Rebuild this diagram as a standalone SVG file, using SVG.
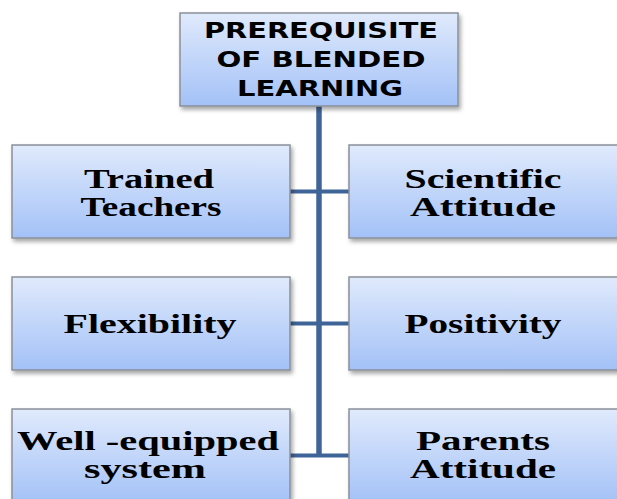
<svg xmlns="http://www.w3.org/2000/svg" width="617" height="499" viewBox="0 0 617 499">
<defs>
<linearGradient id="g" x1="0" y1="0" x2="0" y2="1">
<stop offset="0" stop-color="#e0eafc"/>
<stop offset="1" stop-color="#a3c1f7"/>
</linearGradient>
<filter id="sh" x="-10%" y="-10%" width="125%" height="130%">
<feDropShadow dx="2" dy="3" stdDeviation="2" flood-color="#000" flood-opacity="0.35"/>
</filter>
</defs>
<style>
.box{fill:url(#g);stroke:#8a9099;stroke-width:1.5;filter:url(#sh)}
.t{font-family:"DejaVu Sans","Verdana",sans-serif;font-weight:bold;font-size:22px;fill:#000;text-anchor:middle}
.s{font-family:"Liberation Serif","Times New Roman",serif;font-weight:bold;font-size:27px;fill:#000;text-anchor:middle}
.c{stroke:#3f6497;fill:none}
</style>
<g id="connectors">
<line class="c" x1="319" y1="106" x2="319" y2="457" stroke-width="5.5"/>
<line class="c" x1="290" y1="191.5" x2="349" y2="191.5" stroke-width="4"/>
<line class="c" x1="290" y1="323.5" x2="349" y2="323.5" stroke-width="4"/>
<line class="c" x1="290" y1="455.5" x2="349" y2="455.5" stroke-width="4"/>
</g>
<g id="root">
<rect class="box" x="180" y="13" width="278" height="93"/>
<text class="t" x="321" y="38" textLength="234" lengthAdjust="spacingAndGlyphs">PREREQUISITE</text>
<text class="t" x="321" y="67" textLength="209" lengthAdjust="spacingAndGlyphs">OF BLENDED</text>
<text class="t" x="320" y="96" textLength="166" lengthAdjust="spacingAndGlyphs">LEARNING</text>
</g>
<g id="trained">
<rect class="box" x="12" y="145" width="278" height="93"/>
<text class="s" x="149" y="188" textLength="130" lengthAdjust="spacingAndGlyphs">Trained</text>
<text class="s" x="151" y="216" textLength="141" lengthAdjust="spacingAndGlyphs">Teachers</text>
</g>
<g id="scientific">
<rect class="box" x="349" y="145" width="278" height="93"/>
<text class="s" x="483" y="188" textLength="157" lengthAdjust="spacingAndGlyphs">Scientific</text>
<text class="s" x="483" y="216" textLength="146" lengthAdjust="spacingAndGlyphs">Attitude</text>
</g>
<g id="flexibility">
<rect class="box" x="12" y="277" width="278" height="93"/>
<text class="s" x="150" y="333" textLength="173" lengthAdjust="spacingAndGlyphs">Flexibility</text>
</g>
<g id="positivity">
<rect class="box" x="349" y="277" width="278" height="93"/>
<text class="s" x="483" y="333" textLength="157" lengthAdjust="spacingAndGlyphs">Positivity</text>
</g>
<g id="wellequipped">
<rect class="box" x="12" y="409" width="278" height="95"/>
<text class="s" x="148" y="450" textLength="262" lengthAdjust="spacingAndGlyphs">Well -equipped</text>
<text class="s" x="145" y="478" textLength="122" lengthAdjust="spacingAndGlyphs">system</text>
</g>
<g id="parents">
<rect class="box" x="349" y="409" width="278" height="95"/>
<text class="s" x="483" y="450" textLength="134" lengthAdjust="spacingAndGlyphs">Parents</text>
<text class="s" x="483" y="478" textLength="146" lengthAdjust="spacingAndGlyphs">Attitude</text>
</g>
</svg>
